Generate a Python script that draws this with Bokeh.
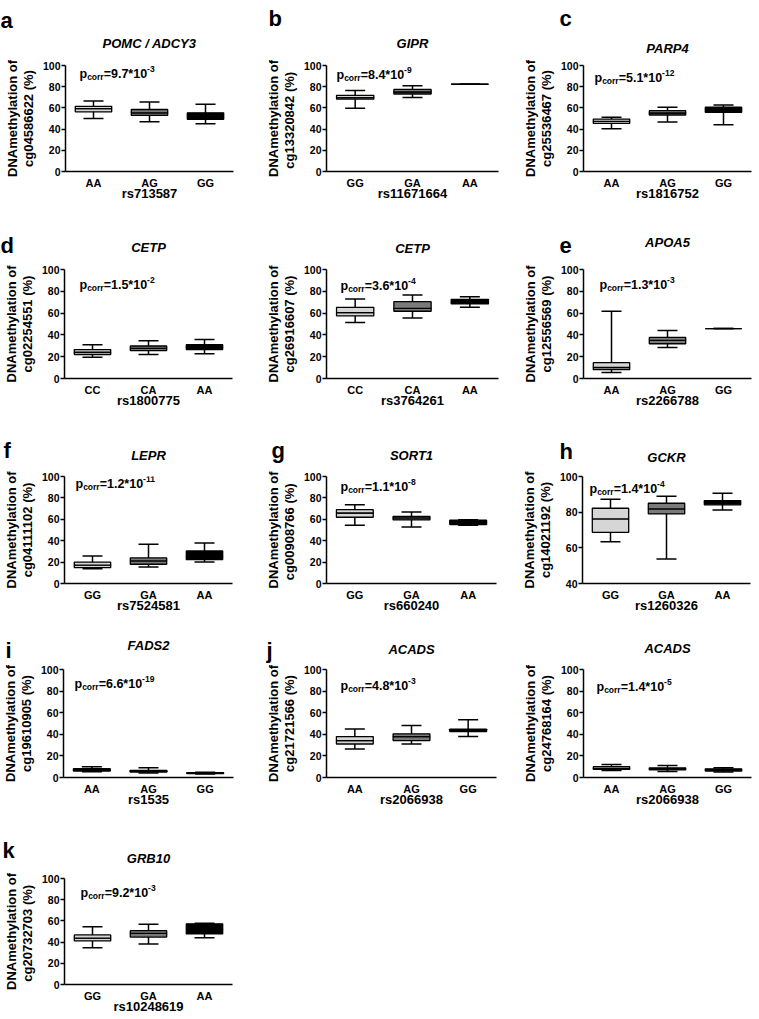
from bokeh.plotting import figure
from bokeh.models import (FactorRange, Range1d, FixedTicker, Whisker, TeeHead, Label,
                          ColumnDataSource, GridBox)
from bokeh.layouts import column, row
from bokeh.embed import file_html
from bokeh.resources import INLINE

FONT = "Liberation Sans"

# ---------------- data ----------------
# a  POMC / ADCY3
a_groups = ["AA", "AG", "GG"]
a_low = [50.0, 47.0, 45.0]
a_q1 = [56.3, 53.0, 49.2]
a_med = [59.4, 55.4, 52.0]
a_q3 = [61.5, 58.5, 55.4]
a_high = [66.5, 65.5, 63.5]
# b  GIPR
b_groups = ["GG", "GA", "AA"]
b_low = [59.6, 69.7, 82.3]
b_q1 = [68.2, 73.1, 82.3]
b_med = [69.7, 75.0, 82.3]
b_q3 = [71.9, 77.4, 82.3]
b_high = [76.5, 81.0, 82.3]
# c  PARP4
c_groups = ["AA", "AG", "GG"]
c_low = [40.4, 46.7, 44.2]
c_q1 = [45.4, 53.3, 55.8]
c_med = [47.3, 55.2, 58.7]
c_q3 = [49.5, 57.4, 60.6]
c_high = [51.1, 60.6, 62.8]
# d  CETP cg02254551
d_groups = ["CC", "CA", "AA"]
d_low = [19.6, 22.0, 22.6]
d_q1 = [22.0, 25.6, 26.5]
d_med = [24.1, 27.7, 28.6]
d_q3 = [26.5, 29.8, 31.0]
d_high = [31.0, 34.6, 35.8]
# d2 CETP cg26916607
d2_groups = ["CC", "CA", "AA"]
d2_low = [51.4, 55.6, 65.3]
d2_q1 = [57.4, 61.7, 68.4]
d2_med = [60.5, 64.4, 70.0]
d2_q3 = [65.3, 70.5, 72.6]
d2_high = [72.9, 76.6, 75.0]
# e  APOA5
e_groups = ["AA", "AG", "GG"]
e_low = [5.5, 28.4, 45.8]
e_q1 = [8.1, 31.9, 45.8]
e_med = [10.1, 35.0, 45.8]
e_q3 = [14.5, 37.7, 45.8]
e_high = [61.7, 44.0, 45.8]
# f  LEPR
f_groups = ["GG", "GA", "AA"]
f_low = [13.7, 15.5, 20.2]
f_q1 = [14.9, 18.0, 22.4]
f_med = [17.1, 21.1, 24.8]
f_q3 = [19.9, 23.9, 30.4]
f_high = [25.8, 36.6, 37.9]
# g  SORT1
g_groups = ["GG", "GA", "AA"]
g_low = [54.5, 52.9, 54.5]
g_q1 = [61.9, 59.4, 55.1]
g_med = [65.9, 61.3, 57.3]
g_q3 = [69.0, 62.8, 59.1]
g_high = [73.7, 66.9, 59.5]
# h  GCKR
h_groups = ["GG", "GA", "AA"]
h_low = [63.4, 53.7, 81.2]
h_q1 = [68.7, 79.0, 84.1]
h_med = [76.2, 81.8, 85.4]
h_q3 = [82.2, 85.0, 86.5]
h_high = [87.3, 88.9, 90.6]
# i  FADS2
i_groups = ["AA", "AG", "GG"]
i_low = [5.4, 4.2, 3.3]
i_q1 = [6.0, 5.1, 3.6]
i_med = [6.9, 5.7, 4.0]
i_q3 = [8.1, 6.6, 4.5]
i_high = [9.9, 9.0, 4.8]
# j  ACADS cg21721566
j_groups = ["AA", "AG", "GG"]
j_low = [26.4, 31.0, 37.9]
j_q1 = [31.0, 34.2, 42.5]
j_med = [34.2, 37.9, 43.5]
j_q3 = [37.9, 40.4, 44.7]
j_high = [45.0, 48.1, 53.4]
# j2 ACADS cg24768164
j2_groups = ["AA", "AG", "GG"]
j2_low = [6.5, 5.5, 5.0]
j2_q1 = [7.5, 7.0, 6.0]
j2_med = [8.5, 8.0, 7.0]
j2_q3 = [10.0, 9.0, 8.0]
j2_high = [12.0, 11.0, 9.0]
# k  GRB10
k_groups = ["GG", "GA", "AA"]
k_low = [34.7, 38.1, 44.2]
k_q1 = [41.1, 44.7, 47.7]
k_med = [43.8, 48.3, 52.0]
k_q3 = [46.8, 50.8, 57.2]
k_high = [54.4, 56.8, 57.7]

genes = ["POMC / ADCY3", "GIPR", "PARP4", "CETP", "CETP", "APOA5", "LEPR", "SORT1",
         "GCKR", "FADS2", "ACADS", "ACADS", "GRB10"]
cpgs = ["cg04586622 (%)", "cg13320842  (%)", "cg25536467 (%)", "cg02254551 (%)",
        "cg26916607 (%)", "cg12556569 (%)", "cg04111102 (%)", "cg00908766  (%)",
        "cg14021192 (%)", "cg19610905 (%)", "cg21721566 (%)", "cg24768164 (%)",
        "cg20732703  (%)"]
snps = ["rs713587", "rs11671664", "rs1816752", "rs1800775", "rs3764261", "rs2266788",
        "rs7524581", "rs660240", "rs1260326", "rs1535", "rs2066938", "rs2066938",
        "rs10248619"]
p_mant = ["9.7", "8.4", "5.1", "1.5", "3.6", "1.3", "1.2", "1.1", "1.4", "6.6", "4.8", "1.4", "9.2"]
p_exp = ["-3", "-9", "-12", "-2", "-4", "-3", "-11", "-8", "-4", "-19", "-3", "-5", "-3"]
letters = ["a", "b", "c", "d", "", "e", "f", "g", "h", "i", "j", "", "k"]

BOX_COLORS = ["#d6d6d6", "#7a7a7a", "#000000"]
LW = 1.5

# Liberation Sans Bold advance widths (per 1000 em)
ADV = {"p": 611, "c": 556, "o": 611, "r": 389, "=": 584, ".": 278, "*": 389, "-": 333}
for dgt in "0123456789":
    ADV[dgt] = 556


def tw(s, size):
    return sum(ADV[ch] for ch in s) * size / 1000.0


PAGE_W, PAGE_H = 756, 1016

# overlay canvas (page pixel coordinates) for the texts that sit outside the plot frames
overlay = figure(width=PAGE_W, height=PAGE_H, x_range=Range1d(0, PAGE_W),
                 y_range=Range1d(PAGE_H, 0), x_axis_type=None, y_axis_type=None,
                 output_backend="svg", toolbar_location=None, min_border=0)
overlay.background_fill_color = None
overlay.border_fill_color = None
overlay.outline_line_color = None
overlay.xgrid.grid_line_color = None
overlay.ygrid.grid_line_color = None


def panel(idx, groups, low, q1, med, q3, high, geo, yr=(0, 100), yticks=(0, 20, 40, 60, 80, 100)):
    # geo: page-pixel layout of the panel
    fx, fy, w, h = geo["fig"]
    L, R = geo["frame_x"]
    y100, y0 = geo["yaxis"]
    left, top = L - fx, y100 - fy
    fw, fh = R - L, y0 - y100

    p = figure(width=w, height=h, x_range=FactorRange(factors=groups, range_padding=0),
               y_range=Range1d(yr[0], yr[1]), output_backend="svg", toolbar_location=None,
               min_border_left=left, min_border_right=w - left - fw,
               min_border_top=top, min_border_bottom=h - top - fh, title=None)
    p.background_fill_color = "white"
    p.border_fill_color = "white"
    p.outline_line_color = None
    p.xgrid.grid_line_color = None
    p.ygrid.grid_line_color = None

    src = ColumnDataSource(dict(x=groups, low=low, q1=q1, med=med, q3=q3, high=high,
                                color=BOX_COLORS))
    wk = Whisker(base="x", lower="low", upper="high", source=src, level="underlay",
                 line_color="black", line_width=LW,
                 upper_head=TeeHead(size=20, line_color="black", line_width=LW),
                 lower_head=TeeHead(size=20, line_color="black", line_width=LW))
    p.add_layout(wk)
    p.vbar(x="x", width=0.65, bottom="q1", top="med", fill_color="color",
           line_color="black", line_width=1.3, source=src)
    p.vbar(x="x", width=0.65, bottom="med", top="q3", fill_color="color",
           line_color="black", line_width=1.3, source=src)

    for ax in (p.xaxis[0], p.yaxis[0]):
        ax.axis_line_color = "black"
        ax.axis_line_width = LW
        ax.major_tick_line_color = "black"
        ax.major_tick_line_width = LW
        ax.minor_tick_line_color = None
        ax.major_label_text_font = FONT
        ax.major_label_text_font_style = "bold"
        ax.major_label_text_color = "black"
        ax.axis_label_text_font = FONT
        ax.axis_label_text_font_style = "bold"
        ax.axis_label_text_color = "black"

    xa = p.xaxis[0]
    xa.major_tick_out = 0
    xa.major_tick_in = 0
    xa.major_label_text_font_size = "11px"
    xa.major_label_standoff = 5
    xa.axis_label = snps[idx]
    xa.axis_label_text_font_size = "13px"
    xa.axis_label_standoff = -6

    ya = p.yaxis[0]
    ya.ticker = FixedTicker(ticks=list(yticks))
    ya.major_tick_out = 4
    ya.major_tick_in = 0
    ya.major_label_text_font_size = "10.5px"
    ya.major_label_standoff = 1
    ya.axis_label = "DNAmethylation of\n" + cpgs[idx]
    ya.axis_label_text_font_size = "13px"
    ya.axis_label_text_line_height = 1.05
    ya.axis_label_standoff = 4

    # p_corr label composed of four text pieces (inside the frame)
    MAIN, SUB = 12.5, 8.5
    pdx, pdy = geo["p"]
    parts = [("p", MAIN, 0), ("corr", SUB, -3), ("=" + p_mant[idx] + "*10", MAIN, 0),
             (p_exp[idx], SUB, 5)]
    xo = pdx
    for txt, sz, rise in parts:
        p.add_layout(Label(x=0, y=yr[1], x_offset=xo, y_offset=-pdy + rise, text=txt,
                           text_font=FONT, text_font_style="bold",
                           text_font_size=f"{sz}px", text_color="black",
                           text_baseline="alphabetic", text_align="left"))
        xo += tw(txt, sz)

    # gene name and panel letter on the overlay
    overlay.add_layout(Label(x=(L + R) / 2.0, y=geo["title"], text=genes[idx],
                             text_font=FONT, text_font_style="bold italic",
                             text_font_size="13px", text_color="black",
                             text_align="center", text_baseline="middle"))
    if letters[idx]:
        lx, lb = geo["letter"]
        overlay.add_layout(Label(x=lx, y=lb, text=letters[idx], text_font=FONT,
                                 text_font_style="bold", text_font_size="22px",
                                 text_color="black", text_baseline="alphabetic",
                                 text_align="left"))
    return p


G = {
    "a": dict(fig=(0, 0, 252, 205), frame_x=(65, 233), yaxis=(63, 172), title=43, p=(14, 8), letter=(0, 20)),
    "b": dict(fig=(252, 0, 252, 205), frame_x=(326, 498), yaxis=(63, 172), title=43, p=(10, 9), letter=(268, 18)),
    "c": dict(fig=(504, 0, 252, 205), frame_x=(583, 751), yaxis=(65, 171), title=48, p=(11, 12), letter=(559, 18)),
    "d": dict(fig=(0, 205, 252, 205), frame_x=(64, 232), yaxis=(268, 378), title=247, p=(15, 15), letter=(0, 245)),
    "d2": dict(fig=(252, 205, 252, 205), frame_x=(326, 498), yaxis=(269, 379), title=248, p=(14, 16)),
    "e": dict(fig=(504, 205, 252, 205), frame_x=(583, 751), yaxis=(263, 378), title=242, p=(16, 15), letter=(559, 245)),
    "f": dict(fig=(0, 410, 252, 205), frame_x=(64, 232), yaxis=(476, 583), title=455, p=(11, 7), letter=(3, 450)),
    "g": dict(fig=(252, 410, 252, 205), frame_x=(326, 496), yaxis=(475, 583), title=455, p=(14, 10), letter=(271, 450)),
    "h": dict(fig=(504, 410, 252, 205), frame_x=(582, 750), yaxis=(476, 583), title=457, p=(7, 12), letter=(559, 451)),
    "i": dict(fig=(0, 615, 252, 195), frame_x=(63, 233), yaxis=(666, 777), title=645, p=(11, 14), letter=(5, 650)),
    "j": dict(fig=(252, 615, 252, 195), frame_x=(326, 496), yaxis=(669, 777), title=649, p=(14, 16), letter=(266, 650)),
    "j2": dict(fig=(504, 615, 252, 195), frame_x=(583, 751), yaxis=(668, 777), title=648, p=(13, 17)),
    "k": dict(fig=(0, 810, 252, 206), frame_x=(64, 232), yaxis=(878, 986), title=858, p=(16, 14), letter=(2, 850)),
}

pa = panel(0, a_groups, a_low, a_q1, a_med, a_q3, a_high, G["a"])
pb = panel(1, b_groups, b_low, b_q1, b_med, b_q3, b_high, G["b"])
pc = panel(2, c_groups, c_low, c_q1, c_med, c_q3, c_high, G["c"])
pd = panel(3, d_groups, d_low, d_q1, d_med, d_q3, d_high, G["d"])
pd2 = panel(4, d2_groups, d2_low, d2_q1, d2_med, d2_q3, d2_high, G["d2"])
pe = panel(5, e_groups, e_low, e_q1, e_med, e_q3, e_high, G["e"])
pf = panel(6, f_groups, f_low, f_q1, f_med, f_q3, f_high, G["f"])
pg = panel(7, g_groups, g_low, g_q1, g_med, g_q3, g_high, G["g"])
ph = panel(8, h_groups, h_low, h_q1, h_med, h_q3, h_high, G["h"], yr=(40, 100), yticks=(40, 60, 80, 100))
pi = panel(9, i_groups, i_low, i_q1, i_med, i_q3, i_high, G["i"])
pj = panel(10, j_groups, j_low, j_q1, j_med, j_q3, j_high, G["j"])
pj2 = panel(11, j2_groups, j2_low, j2_q1, j2_med, j2_q3, j2_high, G["j2"])
pk = panel(12, k_groups, k_low, k_q1, k_med, k_q3, k_high, G["k"])

panels = column(row(pa, pb, pc), row(pd, pd2, pe), row(pf, pg, ph), row(pi, pj, pj2), row(pk))
layout = GridBox(children=[(panels, 0, 0), (overlay, 0, 0)])

open("out.html", "w").write(file_html(layout, INLINE))
